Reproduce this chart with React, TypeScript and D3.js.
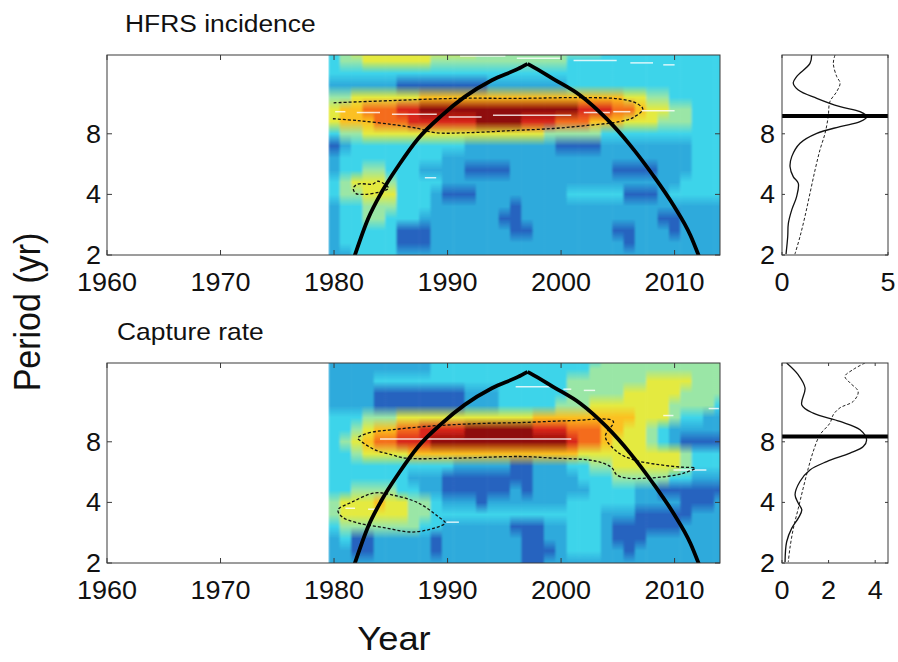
import React from "react";
import * as d3 from "d3";

// ---------------- data ----------------
const heatYears = [
  1980, 1981, 1982, 1983, 1984, 1985, 1986, 1987, 1988, 1989,
  1990, 1991, 1992, 1993, 1994, 1995, 1996, 1997, 1998, 1999,
  2000, 2001, 2002, 2003, 2004, 2005, 2006, 2007, 2008, 2009,
  2010, 2011, 2012, 2013, 2014,
];
// log2(period) of each row of the power grids (top to bottom)
const rowLog2Period = [4.4, 4.2, 4.0, 3.8, 3.6, 3.4, 3.2, 3.0, 2.8, 2.6, 2.4, 2.2, 2.0, 1.8, 1.6, 1.4, 1.2, 1.0];

// wavelet power level (0 = low ... 9 = high), one char per year 1980..2014
const hfrsPower = [
  "34555" + "55555" + "55544" + "44444" + "44443" + "33333" + "33333",
  "34455" + "55554" + "44444" + "44444" + "43333" + "33333" + "33333",
  "33333" + "33333" + "33333" + "33333" + "33333" + "33333" + "33333",
  "22222" + "21111" + "11112" + "22222" + "23333" + "33333" + "33333",
  "44555" + "55566" + "66666" + "66666" + "66666" + "65544" + "33333",
  "56677" + "78899" + "99999" + "99999" + "99888" + "77655" + "44333",
  "56667" + "77888" + "88899" + "99888" + "77766" + "65554" + "44333",
  "34455" + "55555" + "55555" + "55554" + "44443" + "33333" + "33333",
  "12333" + "33333" + "33222" + "22222" + "11112" + "22222" + "22333",
  "23333" + "33333" + "22222" + "22222" + "22222" + "22222" + "22333",
  "23344" + "33322" + "22111" + "12222" + "22222" + "11112" + "22333",
  "34555" + "43333" + "22222" + "22222" + "22222" + "22222" + "23333",
  "34455" + "53332" + "11122" + "22222" + "23333" + "31112" + "33333",
  "23344" + "43332" + "22222" + "21222" + "22222" + "22222" + "22222",
  "23344" + "33322" + "22222" + "11222" + "22222" + "22221" + "12222",
  "23333" + "31112" + "22222" + "21122" + "22222" + "11222" + "12222",
  "23333" + "31112" + "22222" + "22222" + "22222" + "21222" + "22222",
  "22333" + "32222" + "22222" + "22222" + "22222" + "22222" + "22222",
];
const capturePower = [
  "22222" + "22223" + "33333" + "33333" + "33334" + "44444" + "44444",
  "22222" + "22223" + "33333" + "33333" + "33344" + "44444" + "44444",
  "22223" + "33333" + "33333" + "33333" + "34444" + "44455" + "55444",
  "22221" + "11111" + "11222" + "33333" + "34444" + "45555" + "54444",
  "22221" + "11111" + "11222" + "33333" + "44455" + "55555" + "44443",
  "33344" + "45555" + "55555" + "55566" + "66666" + "66555" + "43322",
  "33456" + "67788" + "88999" + "99988" + "87776" + "65543" + "22222",
  "34567" + "78889" + "99999" + "99999" + "98776" + "55543" + "21111",
  "33455" + "55666" + "66666" + "66666" + "66555" + "55555" + "54333",
  "33333" + "33333" + "32222" + "21122" + "23344" + "55555" + "54333",
  "33333" + "33222" + "11111" + "11122" + "22333" + "44444" + "33222",
  "33444" + "43322" + "11111" + "12122" + "22233" + "33221" + "11111",
  "45556" + "55443" + "22212" + "22222" + "23333" + "33222" + "21112",
  "45555" + "55443" + "33333" + "33333" + "33332" + "22111" + "11222",
  "34444" + "44433" + "22222" + "21112" + "23332" + "11111" + "12222",
  "23112" + "22221" + "22222" + "22112" + "23332" + "11122" + "22222",
  "22112" + "22221" + "22222" + "22111" + "23332" + "21222" + "22222",
  "22222" + "22222" + "22222" + "22112" + "22222" + "22222" + "22222",
];

// colour of each power level (jet-like)
const levelColors = [
  "#16308f", "#2563bf", "#2eaadc", "#3ed4ea", "#9ae6a6",
  "#e4ea40", "#fbc020", "#f46c1c", "#d8261a", "#8e0c08",
];

// cone of influence [year, period]
const coiLeft: [number, number][] = [
  [1981.8, 1.97], [1983.0, 3.03], [1984.2, 4.11], [1985.7, 5.58], [1987.4, 7.56],
  [1989.5, 9.88], [1991.5, 12.2], [1993.9, 14.75], [1996.2, 16.8], [1997.05, 17.8],
];
const coiRight: [number, number][] = [
  [1997.05, 17.8], [1997.3, 17.5], [1999.3, 15.0], [2001.7, 12.4], [2004.0, 9.51],
  [2006.1, 7.01], [2008.1, 4.98], [2009.9, 3.53], [2011.4, 2.5], [2012.15, 1.97],
];

// significance contours [year, period]
const hfrsContourMain: [number, number][] = [
  [1979.9, 9.5], [1982.1, 9.3], [1985.1, 8.9], [1987.4, 8.5], [1988.9, 8.1], [1991.8, 8.1],
  [1995.7, 8.3], [1999.3, 8.5], [2002.3, 8.8], [2005.2, 9.2], [2006.3, 9.6], [2007.2, 10.6],
  [2006.7, 11.3], [2005.2, 11.9], [2002.3, 12.1], [1996.4, 12.0], [1990.9, 12.0],
  [1985.1, 11.7], [1979.9, 11.4],
];
const hfrsContourSmall: [number, number][] = [
  [1981.7, 4.3], [1982.1, 4.5], [1983.4, 4.5], [1983.9, 4.65], [1984.8, 4.3], [1984.2, 4.14],
  [1982.7, 4.0], [1981.9, 4.05],
];
const captureContourMain: [number, number][] = [
  [1982.1, 8.35], [1983.0, 8.84], [1985.1, 9.18], [1988.0, 9.53], [1992.4, 9.84], [1996.8, 9.98],
  [2000.8, 10.18], [2004.6, 10.1], [2003.9, 8.5], [2004.9, 7.16], [2006.4, 6.51], [2008.7, 6.15],
  [2010.5, 5.99], [2011.8, 5.92], [2010.8, 5.59], [2009.3, 5.38], [2007.6, 5.28], [2005.8, 5.28],
  [2004.9, 5.48], [2004.5, 5.92], [2003.7, 6.27], [2002.3, 6.51], [1999.3, 6.64], [1996.4, 6.76],
  [1991.0, 6.64], [1986.3, 6.64], [1985.1, 6.89], [1983.6, 7.3], [1982.4, 8.03],
];
const captureContourSmall: [number, number][] = [
  [1980.35, 3.67], [1981.6, 4.02], [1983.6, 4.46], [1985.1, 4.36], [1987.4, 3.98], [1989.2, 3.39],
  [1989.8, 3.16], [1988.9, 2.99], [1986.9, 2.85], [1984.5, 2.99], [1982.1, 3.16], [1980.7, 3.39],
];

// ridge (local maxima) segments [startYear, endYear, period]
const hfrsRidges: [number, number, number][] = [
  [1980.1, 1981.0, 10.3], [1982.0, 1984.05, 10.2], [1985.1, 1989.05, 10.0], [1990.1, 1993.0, 9.7],
  [1994.0, 2000.9, 9.9], [2002.0, 2004.3, 10.2], [2004.6, 2006.1, 10.3], [2007.1, 2010.0, 10.4],
  [1991.1, 1995.1, 19.5], [1996.1, 1999.9, 19.0], [2001.1, 2004.9, 18.5], [2006.1, 2008.1, 18.0],
  [2009.0, 2010.0, 17.6], [1988.0, 1989.0, 4.84],
];
const captureRidges: [number, number, number][] = [
  [1984.05, 2000.9, 8.25], [1996.0, 1999.0, 15.0], [2000.2, 2000.9, 14.6], [2002.0, 2003.0, 14.4],
  [2009.0, 2009.9, 10.8], [2013.0, 2013.9, 11.7], [2009.9, 2012.8, 5.8], [1981.0, 1981.85, 3.74],
  [1983.0, 1983.8, 3.7], [1989.9, 1991.0, 3.19],
];

// global wavelet spectrum [period, power]
const hfrsGlobal: [number, number][] = [
  [19.7, 1.4], [17.9, 1.32], [15.4, 0.69], [14.3, 0.53], [13.2, 0.77], [12.0, 1.64], [10.9, 2.74],
  [10.3, 3.68], [9.73, 4.0], [9.19, 3.68], [8.68, 2.74], [8.04, 1.64], [7.18, 0.85], [6.16, 0.46],
  [5.49, 0.38], [4.9, 0.53], [4.54, 0.77], [3.9, 0.69], [3.35, 0.46], [2.87, 0.3], [2.47, 0.27],
  [2.02, 0.19],
];
const hfrsSignif: [number, number][] = [
  [19.7, 2.5], [17.9, 2.42], [15.4, 2.58], [14.3, 2.74], [12.95, 2.58], [11.55, 2.26], [9.73, 2.18],
  [8.04, 2.03], [6.65, 1.79], [5.29, 1.56], [4.05, 1.32], [3.1, 1.08], [2.47, 0.85], [2.02, 0.61],
];
const captureGlobal: [number, number][] = [
  [19.7, 0.2], [17.2, 0.7], [14.8, 0.99], [12.2, 0.85], [11.1, 1.34], [10.1, 2.49], [9.18, 3.35],
  [8.18, 3.63], [7.58, 3.49], [7.03, 2.92], [6.38, 1.92], [5.8, 1.2], [5.08, 0.77], [4.36, 0.56],
  [3.96, 0.7], [3.67, 0.85], [3.34, 0.7], [2.98, 0.42], [2.55, 0.2], [2.02, 0.13],
];
const captureSignif: [number, number][] = [
  [19.7, 3.56], [18.3, 3.06], [16.9, 2.7], [15.7, 2.92], [14.2, 3.27], [12.7, 3.06], [11.8, 2.49],
  [10.9, 2.2], [9.91, 2.06], [8.67, 1.63], [7.16, 1.34], [5.92, 1.13], [4.71, 0.91], [3.74, 0.7],
  [2.98, 0.49], [2.37, 0.34], [2.02, 0.27],
];
const hfrsPeakPeriod = 9.8;
const capturePeakPeriod = 8.5;

const yearTicks = [1960, 1970, 1980, 1990, 2000, 2010];
const periodTicks = [2, 4, 8];
const hfrsPowerTicks = [0, 5];
const capturePowerTicks = [0, 2, 4];

// ---------------- layout / style ----------------
const W = 898;
const H = 662;
const mainLeft = 107;
const mainRight = 720;
const sideLeft = 782;
const sideRight = 888;
const FONT = "'Liberation Sans', Arial, Helvetica, sans-serif";
const AXIS = "#3a3a3a";

function Txt(props: {
  x: number; y: number; text: string; size: number; anchor?: string; sx?: number; rotate?: number; weight?: number;
}) {
  const { x, y, text, size, anchor = "middle", sx = 1.08, rotate = 0, weight = 400 } = props;
  return (
    <text
      transform={`translate(${x},${y}) scale(${sx},1)${rotate ? ` rotate(${rotate})` : ""}`}
      fontSize={size}
      fontFamily={FONT}
      fontWeight={weight}
      textAnchor={anchor as any}
      fill="#111"
    >
      {text}
    </text>
  );
}

type PanelProps = {
  id: string;
  top: number;
  bottom: number;
  title: string;
  titleX: number;
  power: string[];
  contoursClosed: [number, number][][];
  contoursOpen: [number, number][][];
  ridges: [number, number, number][];
  gws: [number, number][];
  sig: [number, number][];
  peak: number;
  pMax: number;
  pTicks: number[];
};

function Panel(p: PanelProps) {
  const { id, top, bottom } = p;
  const x = d3.scaleLinear().domain([1960, 2014]).range([mainLeft, mainRight]);
  const y = d3.scaleLog().base(2).domain([2, 2 ** 4.3]).range([bottom, top]);
  const xs = d3.scaleLinear().domain([0, p.pMax]).range([sideLeft, sideRight]);
  const color = (lv: number) => levelColors[lv];
  const gy1 = y(2 ** rowLog2Period[0]);
  const gy2 = y(2 ** rowLog2Period[rowLog2Period.length - 1]);

  const coiLine = d3
    .line<[number, number]>()
    .x((d) => x(d[0]))
    .y((d) => y(d[1]))
    .curve(d3.curveMonotoneX);
  const closedLine = d3
    .line<[number, number]>()
    .x((d) => x(d[0]))
    .y((d) => y(d[1]))
    .curve(d3.curveCatmullRomClosed.alpha(0.5));
  const openLine = d3
    .line<[number, number]>()
    .x((d) => x(d[0]))
    .y((d) => y(d[1]))
    .curve(d3.curveCatmullRom.alpha(0.5));
  const sideLine = d3
    .line<[number, number]>()
    .x((d) => xs(d[1]))
    .y((d) => y(d[0]))
    .curve(d3.curveCatmullRom.alpha(0.5));

  const heatX0 = x(heatYears[0] - 0.5);
  const tl = 5;
  return (
    <g>
      <defs>
        <clipPath id={`${id}-clip`}>
          <rect x={mainLeft} y={top} width={mainRight - mainLeft} height={bottom - top} />
        </clipPath>
        <clipPath id={`${id}-hclip`}>
          <rect x={heatX0} y={top} width={mainRight - heatX0} height={bottom - top} />
        </clipPath>
        <clipPath id={`${id}-sclip`}>
          <rect x={sideLeft} y={top} width={sideRight - sideLeft} height={bottom - top} />
        </clipPath>
        <filter id={`${id}-blur`} x="0" y="0" width="1" height="1">
          <feGaussianBlur stdDeviation="1.3 0.6" edgeMode="duplicate" />
        </filter>
        {heatYears.map((yr, j) => (
          <linearGradient key={yr} id={`${id}-c${j}`} gradientUnits="userSpaceOnUse" x1={0} x2={0} y1={gy1} y2={gy2}>
            {rowLog2Period.map((L, i) => (
              <stop key={i} offset={(y(2 ** L) - gy1) / (gy2 - gy1)} stopColor={color(+p.power[i][j])} />
            ))}
          </linearGradient>
        ))}
      </defs>

      {/* title */}
      <Txt x={p.titleX} y={top - 23} text={p.title} size={24} anchor="start" sx={1.1} />

      {/* heatmap */}
      <g clipPath={`url(#${id}-hclip)`}>
        <g filter={`url(#${id}-blur)`}>
          {heatYears.map((yr, j) => {
            const x0 = x(yr - 0.5);
            const x1 = x(yr + 0.5);
            return (
              <rect key={yr} x={x0} y={top - 4} width={x1 - x0 + 0.6} height={bottom - top + 8} fill={`url(#${id}-c${j})`} />
            );
          })}
        </g>
      </g>
      <g clipPath={`url(#${id}-clip)`}>
        {p.ridges.map((r, i) => (
          <line key={i} x1={x(r[0])} x2={x(r[1])} y1={y(r[2])} y2={y(r[2])} stroke="#ffffff" strokeOpacity={0.8} strokeWidth={1.5} />
        ))}
        {p.contoursClosed.map((c, i) => (
          <path key={i} d={closedLine(c) || ""} fill="none" stroke="#111" strokeWidth={1.3} strokeDasharray="3 2" />
        ))}
        {p.contoursOpen.map((c, i) => (
          <path key={i} d={openLine(c) || ""} fill="none" stroke="#111" strokeWidth={1.3} strokeDasharray="3 2" />
        ))}
        <path d={coiLine(coiLeft) || ""} fill="none" stroke="#000" strokeWidth={3.8} strokeLinejoin="round" />
        <path d={coiLine(coiRight) || ""} fill="none" stroke="#000" strokeWidth={3.8} strokeLinejoin="round" />
      </g>

      {/* main frame + ticks */}
      <rect x={mainLeft} y={top} width={mainRight - mainLeft} height={bottom - top} fill="none" stroke={AXIS} strokeWidth={1} />
      {yearTicks.map((t) => (
        <g key={t}>
          <line x1={x(t)} x2={x(t)} y1={bottom} y2={bottom - tl} stroke={AXIS} />
          <line x1={x(t)} x2={x(t)} y1={top} y2={top + tl} stroke={AXIS} />
          <Txt x={x(t)} y={bottom + 36} text={String(t)} size={25} />
        </g>
      ))}
      {periodTicks.map((t) => (
        <g key={t}>
          <line x1={mainLeft} x2={mainLeft + tl} y1={y(t)} y2={y(t)} stroke={AXIS} />
          <line x1={mainRight} x2={mainRight - tl} y1={y(t)} y2={y(t)} stroke={AXIS} />
          <Txt x={101} y={y(t) + 9} text={String(t)} size={25} anchor="end" />
        </g>
      ))}

      {/* side panel: global wavelet spectrum */}
      <g clipPath={`url(#${id}-sclip)`}>
        <path d={sideLine(p.sig) || ""} fill="none" stroke="#222" strokeWidth={1} strokeDasharray="3 2" />
        <path d={sideLine(p.gws) || ""} fill="none" stroke="#111" strokeWidth={1.3} />
        <line x1={sideLeft} x2={sideRight} y1={y(p.peak)} y2={y(p.peak)} stroke="#000" strokeWidth={4} />
      </g>
      <rect x={sideLeft} y={top} width={sideRight - sideLeft} height={bottom - top} fill="none" stroke={AXIS} strokeWidth={1} />
      {p.pTicks.map((t) => (
        <g key={t}>
          <line x1={xs(t)} x2={xs(t)} y1={bottom} y2={bottom - 3} stroke={AXIS} />
          <line x1={xs(t)} x2={xs(t)} y1={top} y2={top + 3} stroke={AXIS} />
          <Txt x={xs(t)} y={bottom + 36} text={String(t)} size={25} />
        </g>
      ))}
      {periodTicks.map((t) => (
        <g key={t}>
          <line x1={sideLeft} x2={sideLeft + 3} y1={y(t)} y2={y(t)} stroke={AXIS} />
          <line x1={sideRight} x2={sideRight - 3} y1={y(t)} y2={y(t)} stroke={AXIS} />
          <Txt x={775} y={y(t) + 9} text={String(t)} size={25} anchor="end" />
        </g>
      ))}
    </g>
  );
}

export default function App() {
  return (
    <svg
      width={W}
      height={H}
      viewBox={`0 0 ${W} ${H}`}
      style={{ position: "absolute", left: 0, top: 0, background: "#fff" }}
    >
      <rect x={0} y={0} width={W} height={H} fill="#fff" />
      <Panel
        id="hfrs"
        top={55}
        bottom={255}
        title="HFRS incidence"
        titleX={125}
        power={hfrsPower}
        contoursClosed={[hfrsContourSmall]}
        contoursOpen={[hfrsContourMain]}
        ridges={hfrsRidges}
        gws={hfrsGlobal}
        sig={hfrsSignif}
        peak={hfrsPeakPeriod}
        pMax={5}
        pTicks={hfrsPowerTicks}
      />
      <Panel
        id="cap"
        top={363}
        bottom={563}
        title="Capture rate"
        titleX={117}
        power={capturePower}
        contoursClosed={[captureContourMain, captureContourSmall]}
        contoursOpen={[]}
        ridges={captureRidges}
        gws={captureGlobal}
        sig={captureSignif}
        peak={capturePeakPeriod}
        pMax={4.55}
        pTicks={capturePowerTicks}
      />
      <Txt x={40} y={312} text="Period (yr)" size={34} rotate={-90} sx={1.1} />
      <Txt x={394} y={650} text="Year" size={33} sx={1.1} />
    </svg>
  );
}
